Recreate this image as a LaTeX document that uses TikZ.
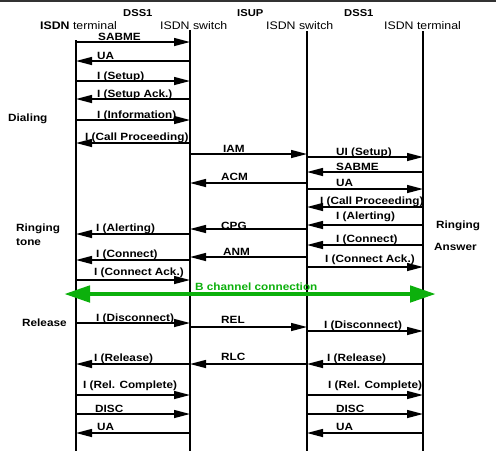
\documentclass[tikz,border=0pt]{standalone}
\usepackage{fontspec}
\setmainfont{Liberation Sans}
\newfontfamily\widesans{Liberation Sans}[FakeStretch=1.12]
\usetikzlibrary{arrows.meta}
\definecolor{linkgreen}{RGB}{12,176,12}
\definecolor{rulegray}{RGB}{50,50,50}

\tikzset{
  lifeline/.style={line width=1.2pt},
  msg/.style={line width=1.4pt, -{Triangle[length=16pt,width=8pt]}},
  msglabel/.style={anchor=base west, inner sep=0pt,
    font=\widesans\bfseries\fontsize{10.5}{12}\selectfont},
  sidelabel/.style={anchor=base west, inner sep=0pt,
    font=\widesans\bfseries\fontsize{10.5}{12}\selectfont},
  headlabel/.style={anchor=base west, inner sep=0pt},
  entitylabel/.style={anchor=base west, inner sep=0pt,
    font=\widesans\fontsize{11}{13}\selectfont},
  bchannel/.style={linkgreen, line width=4.7pt,
    {Triangle[length=26pt,width=16pt]}-{Triangle[length=26pt,width=16pt]}},
}
\newcommand\headfont{\widesans\bfseries\fontsize{10}{12}\selectfont}

% #1 label name, #2 sender lifeline, #3 receiver lifeline, #4 arrow y,
% #5 label x, #6 label baseline y, #7 text
\newcommand\sigmsg[7]{%
  \draw[msg] (#2 |- 0,#4) -- (#3 |- 0,#4);
  \node[msglabel] (#1) at (#5,#6) {#7};
}

\begin{document}
\begin{tikzpicture}[x=1pt,y=-1pt]
\useasboundingbox (0,0) rectangle (496,451);

% frame rule along the top
\draw[rulegray, line width=1.5pt] (0,0.75) -- (496,0.75);

% protocol headings
\node[headlabel] (dssA) at (123,16) {\headfont DSS1};
\node[headlabel] (isup) at (237,16) {\headfont ISUP};
\node[headlabel] (dssB) at (344,16) {\headfont DSS1};

% entity headings
\node[entitylabel] (termA) at (40,29) {\textbf{ISDN} terminal};
\node[entitylabel] (swA) at (160,29) {ISDN switch};
\node[entitylabel] (swB) at (266,29) {ISDN switch};
\node[entitylabel] (termB) at (384,29) {ISDN terminal};

% lifelines
\coordinate (TA) at (76,40);
\coordinate (SA) at (190,30);
\coordinate (SB) at (307,31);
\coordinate (TB) at (423,31);
\draw[lifeline] (TA) -- (TA |- 0,451);
\draw[lifeline] (SA) -- (SA |- 0,451);
\draw[lifeline] (SB) -- (SB |- 0,451);
\draw[lifeline] (TB) -- (TB |- 0,451);

% call set-up, calling side
\sigmsg{m1}{TA}{SA}{42}{98}{40}{SABME}
\sigmsg{m2}{SA}{TA}{61}{97}{59}{UA}
\sigmsg{m3}{TA}{SA}{81}{97}{79}{I (Setup)}
\sigmsg{m4}{SA}{TA}{99}{97}{97}{I (Setup Ack.)}
\sigmsg{m5}{TA}{SA}{120}{97}{118}{I (Information)}
\sigmsg{m6}{SA}{TA}{143}{85}{140}{I (Call Proceeding)}

% network signalling
\sigmsg{m7}{SA}{SB}{154}{223}{152}{IAM}
\sigmsg{m8}{SB}{SA}{183}{221}{180}{ACM}

% call set-up, called side
\sigmsg{m9}{SB}{TB}{157}{336}{155}{UI (Setup)}
\sigmsg{m10}{TB}{SB}{172}{336}{170}{SABME}
\sigmsg{m11}{SB}{TB}{189}{336}{186}{UA}
\sigmsg{m12}{TB}{SB}{207}{320}{204}{I (Call Proceeding)}
\sigmsg{m13}{TB}{SB}{225}{336}{219}{I (Alerting)}
\sigmsg{m14}{SB}{SA}{229}{221}{229}{CPG}
\sigmsg{m15}{SA}{TA}{234}{96}{231}{I (Alerting)}
\sigmsg{m16}{TB}{SB}{245}{336}{242}{I (Connect)}
\sigmsg{m17}{SB}{SA}{257}{223}{255}{ANM}
\sigmsg{m18}{SA}{TA}{260}{96}{257}{I (Connect)}
\sigmsg{m19}{SB}{TB}{267}{325}{262}{I (Connect Ack.)}
\sigmsg{m20}{TA}{SA}{280}{94}{275}{I (Connect Ack.)}

% user channel
\coordinate (BL) at (64,294);
\coordinate (BR) at (436,294);
\draw[bchannel] (BL) -- (BR);
\node[msglabel, text=linkgreen] (bch) at (195,290) {B channel connection};

% release
\sigmsg{m21}{TA}{SA}{323}{96}{321}{I (Disconnect)}
\sigmsg{m22}{SA}{SB}{327}{221}{323}{REL}
\sigmsg{m23}{SB}{TB}{331}{324}{328}{I (Disconnect)}
\sigmsg{m24}{SA}{TA}{364}{94}{361}{I (Release)}
\sigmsg{m25}{SB}{SA}{364}{221}{360}{RLC}
\sigmsg{m26}{TB}{SB}{364}{327}{361}{I (Release)}
\sigmsg{m27}{TA}{SA}{395}{83}{388}{I (Rel. Complete)}
\sigmsg{m28}{SB}{TB}{395}{328}{388}{I (Rel. Complete)}
\sigmsg{m29}{TA}{SA}{414}{95}{412}{DISC}
\sigmsg{m30}{SB}{TB}{414}{336}{412}{DISC}
\sigmsg{m31}{SA}{TA}{433}{97}{430}{UA}
\sigmsg{m32}{TB}{SB}{433}{336}{430}{UA}

% phase annotations
\node[sidelabel] (dial) at (8,121) {Dialing};
\node[sidelabel] (ringA) at (16,231) {Ringing};
\node[sidelabel] (tone) at (16,245) {tone};
\node[sidelabel] (ringB) at (436,228) {Ringing};
\node[sidelabel] (answer) at (434,250) {Answer};
\node[sidelabel] (rel) at (22,326) {Release};

\end{tikzpicture}
\end{document}
